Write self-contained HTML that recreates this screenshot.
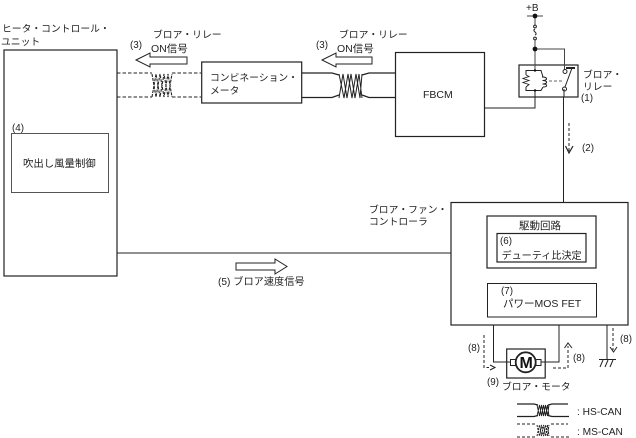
<!DOCTYPE html>
<html><head><meta charset="utf-8"><style>
html,body{margin:0;padding:0;background:#fff}
svg{display:block}
text{font-family:"Liberation Sans","Noto Sans CJK JP",sans-serif;font-size:9.8px;fill:#222}
</style></head><body>
<svg width="636" height="438" viewBox="0 0 636 438" xmlns="http://www.w3.org/2000/svg">
<g fill="none" stroke="#222" stroke-width="1">
<rect x="4" y="50" width="113" height="226" stroke-width="1.2"/>
<rect x="11.5" y="133.5" width="97" height="59" stroke="#555"/>
<rect x="201.7" y="62" width="100" height="41" stroke-width="1.2"/>
<rect x="395.5" y="52.5" width="89" height="84" stroke-width="1.2"/>
<rect x="451" y="202.5" width="177" height="122.5" stroke-width="1.2"/>
<rect x="487" y="216" width="109" height="52" stroke-width="1.2"/>
<rect x="497" y="233.5" width="89" height="28.5" stroke-width="1.2"/>
<rect x="487.5" y="283.5" width="109" height="33.5"/>
<rect x="519" y="65" width="59" height="32" stroke-width="1.2"/>
<rect x="506.7" y="349" width="38.5" height="29" stroke-width="1.2"/>
<!-- CAN lines -->
<path d="M302 73H332L339 75M302 97.5H332L339 95M362 75L369 73H395M362 95L369 97.5H395" stroke-width="1.2"/>
<path d="M339 74L344 98L348 74L352 98L356 74L360 98L362 74M339 98L343 74L347 98L351 74L355 98L359 74L362 98" stroke-width="1"/>
<path d="M117 73H152M117 97H152M172 73H201M172 97H201" stroke-dasharray="3.5 2"/>
<path d="M152 74L156 97L160 74L164 97L168 74L172 97M152 97L156 74L160 97L164 74L168 97L172 74" stroke-dasharray="3 1" stroke-width="1.1"/>
<!-- block arrows -->
<path d="M136 60L150 53V57H187V64H150V67Z"/>
<path d="M322 60L336 53V57H372V64H336V67Z"/>
<path d="M236 263H275V259L287 266.5L275 274V270H236Z" stroke-width="1"/>
<!-- wires -->
<path d="M117 253H451"/>
<path d="M484.5 108H535V97"/>
<path d="M564 89V97M563.5 97V203"/>
<path d="M535 16V25M535 40V70M535 49H564.5V70M527 16H543" stroke="#444"/>
<path d="M535 29C531 31 539 33 535 35"/>
<circle cx="535" cy="26.5" r="1.4"/><circle cx="535" cy="38.5" r="1.4"/>
<!-- relay interior -->
<path d="M535 70.5H526V75M526 87V90.5H535V97M535 70.5H541L543 77M535 90.5H541L543 87"/>
<path d="M526 75L529 76.5L523 78.5L529 80.5L523 82.5L529 84.5L526 87" stroke-width="0.9"/>
<path d="M542 77C548 77 548 80.5 542.5 80.5C548 80.5 548 84 542.5 84C548 84 548 87 543 87"/>
<path d="M549 81H562" stroke-dasharray="3 2" stroke="#666"/>
<path d="M565 87L572 68"/>
<circle cx="565" cy="71.5" r="2"/><circle cx="564.5" cy="89" r="2"/>
<path d="M566 68H575" stroke-width="2"/>
<!-- dashed arrows -->
<path d="M569 123V151" stroke-dasharray="3 2"/>
<path d="M565.5 146L569 153L573 146" stroke-width="1.2"/>
<!-- lower wires -->
<path d="M493.5 325V362H510M559 325V362H541M607 325V359"/>
<path d="M599 359.5H616M600 367L603 360M605 367L608 360M610 367L613 360" stroke-width="1"/>
<path d="M484 335V367.5H489" stroke-dasharray="3 2"/>
<path d="M490 365L495 367.5L490 370"/>
<path d="M553 368H568V346" stroke-dasharray="3 2"/>
<path d="M564.5 348L568 343L572 348"/>
<path d="M613 328V350" stroke-dasharray="3 2"/>
<path d="M610 347L613.5 352L617 347"/>
<!-- motor -->
<circle cx="525.7" cy="362.3" r="10" stroke-width="1.8"/>
<rect x="510.5" y="359.5" width="5" height="6"/><rect x="536" y="359.5" width="5" height="6"/>
<!-- legend -->
<path d="M517 404H534L538 405M517 416.5H534L538 415.5M548 405L552 404H568M548 415.5L552 416.5H569" stroke-width="1.2"/>
<path d="M537 405L539.5 416L541.5 405L543.5 416L545.5 405L547.5 416L549 405M537 416L539.5 405L541.5 416L543.5 405L545.5 416L547.5 405L549 416" stroke-width="0.9"/>
<path d="M517 424H535M517 437H535M551 424H568M551 437H569" stroke-dasharray="3 2"/>
<path d="M537 425L539.5 436L541.5 425L543.5 436L545.5 425L547.5 436L549 425M537 436L539.5 425L541.5 436L543.5 425L545.5 436L547.5 425L549 436" stroke-dasharray="2 1"/>
</g>
<circle cx="535" cy="16" r="2.4" fill="#111"/>
<circle cx="535" cy="49" r="2.4" fill="#111"/>
<circle cx="535" cy="70.5" r="1.2" fill="#111"/><circle cx="535" cy="90.5" r="1.2" fill="#111"/>
<text x="526" y="11" style="font-size:10px">+B</text>
<text x="2" y="32">ヒータ・コントロール・</text>
<text x="1" y="45">ユニット</text>
<text x="153" y="38">ブロア・リレー</text>
<text x="151" y="52" style="font-size:10.5px">ON信号</text>
<text x="130" y="48">(3)</text>
<text x="339" y="38">ブロア・リレー</text>
<text x="337" y="52" style="font-size:10.5px">ON信号</text>
<text x="316" y="48">(3)</text>
<text x="210" y="81">コンビネーション・</text>
<text x="210" y="94">メータ</text>
<text x="423" y="98" style="font-size:10.5px">FBCM</text>
<text x="583" y="78">ブロア・</text>
<text x="583" y="90">リレー</text>
<text x="581" y="101">(1)</text>
<text x="582" y="151">(2)</text>
<text x="12" y="131">(4)</text>
<text x="23" y="167" style="font-size:10.4px">吹出し風量制御</text>
<text x="369" y="213">ブロア・ファン・</text>
<text x="369" y="225">コントローラ</text>
<text x="519" y="229" style="font-size:10.5px">駆動回路</text>
<text x="500" y="244">(6)</text>
<text x="501.5" y="259" style="font-size:10.1px">デューティ比決定</text>
<text x="501" y="294">(7)</text>
<text x="503" y="307" style="font-size:10.5px">パワーMOS FET</text>
<text x="218" y="285" style="font-size:10.2px">(5) ブロア速度信号</text>
<text x="468" y="351">(8)</text>
<text x="573" y="361">(8)</text>
<text x="620" y="342">(8)</text>
<text x="487" y="385">(9)</text>
<text x="502" y="390">ブロア・モータ</text>
<text x="577" y="415" style="font-size:10.2px">: HS-CAN</text>
<text x="577" y="435" style="font-size:10.2px">: MS-CAN</text>
<text x="519.5" y="368" style="font-size:16px;font-weight:bold;fill:#111">M</text>
</svg>
</body></html>
